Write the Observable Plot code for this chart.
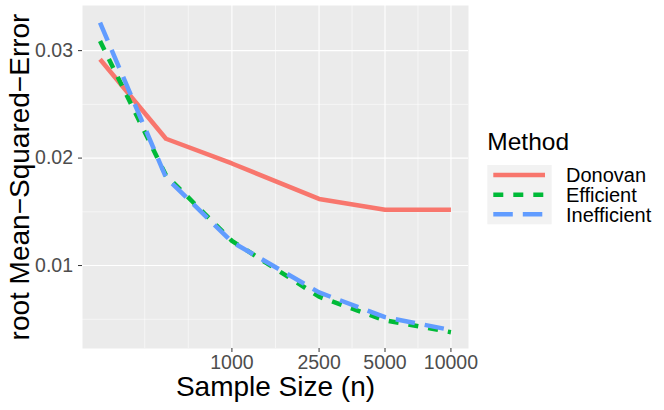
<!DOCTYPE html>
<html><head><meta charset="utf-8">
<script src="https://cdn.jsdelivr.net/npm/d3@7"></script>
<script src="https://cdn.jsdelivr.net/npm/@observablehq/plot@0.6"></script>
<style>
body{margin:0;background:#fff;}
#wrap{position:relative;width:664px;height:410px;overflow:hidden;font-family:"Liberation Sans",Arial,sans-serif;}
#chart{position:absolute;left:0;top:0;}
#legend{position:absolute;left:470px;top:0;}
</style></head><body><div id="wrap"><div id="chart"></div><svg id="legend" width="194" height="410"></svg></div>
<script>
const sampleSizes = [250, 500, 1000, 2500, 5000, 10000];
const donovan     = [0.0292, 0.0218, 0.0195, 0.0162, 0.0152, 0.0152];
const efficient   = [0.0309, 0.0184, 0.0123, 0.0071, 0.0049, 0.0038];
const inefficient = [0.0326, 0.0182, 0.0122, 0.0075, 0.0052, 0.0040];
const methods = ["Donovan", "Efficient", "Inefficient"];
const colors = ["#F8766D", "#00BA38", "#619CFF"];
const dashes = [null, "10 10", "19.5 10"];
const xTicks = [1000, 2500, 5000, 10000];
const xTickLabels = ["1000", "2500", "5000", "10000"];
const xMinor = [400, 632, 1581, 3536, 7071];
const yTicks = [0.01, 0.02, 0.03];
const yTickLabels = ["0.01", "0.02", "0.03"];
const yMinor = [0.005, 0.015, 0.025];
const xTitle = "Sample Size (n)";
const yTitle = "root Mean\u2212Squared\u2212Error";
const legendTitle = "Method";

const series = [donovan, efficient, inefficient];
const rows = methods.flatMap((m, i) => sampleSizes.map((n, j) => ({n, rmse: series[i][j], method: m})));
const xLab = xTicks.map((v, i) => ({v, t: xTickLabels[i]}));
const yLab = yTicks.map((v, i) => ({v, t: yTickLabels[i]}));
const font = '"Liberation Sans", Arial, sans-serif';

const lines = methods.map((m, i) => Plot.line(rows.filter(r => r.method === m), {
  x: "n", y: "rmse", stroke: colors[i], strokeWidth: 4.5,
  strokeDasharray: dashes[i] || undefined, strokeLinecap: "butt", strokeLinejoin: "round"
}));

const chart = Plot.plot({
  width: 470, height: 410,
  marginLeft: 82, marginRight: 2, marginTop: 5, marginBottom: 62,
  style: {fontFamily: font, background: "transparent", color: "#4D4D4D", overflow: "visible"},
  x: {type: "log", domain: [207.9, 12028]},
  y: {domain: [0.00228, 0.0342]},
  marks: [
    Plot.frame({fill: "#EBEBEB", stroke: "none"}),
    Plot.gridX(xMinor, {stroke: "white", strokeOpacity: 1, strokeWidth: 0.55}),
    Plot.gridY(yMinor, {stroke: "white", strokeOpacity: 1, strokeWidth: 0.55}),
    Plot.gridX(xTicks, {stroke: "white", strokeOpacity: 1, strokeWidth: 1.1}),
    Plot.gridY(yTicks, {stroke: "white", strokeOpacity: 1, strokeWidth: 1.1}),
    Plot.axisX(xTicks, {tickFormat: () => "", tickSize: 4, label: null, stroke: "#333333"}),
    Plot.axisY(yTicks, {tickFormat: () => "", tickSize: 4, label: null, stroke: "#333333"}),
    Plot.text(xLab, {x: "v", text: "t", frameAnchor: "bottom", dy: 7, lineAnchor: "top", textAnchor: "middle", fontSize: 19.5, fill: "#4D4D4D"}),
    Plot.text(yLab, {y: "v", text: "t", frameAnchor: "left", dx: -9.5, lineAnchor: "middle", textAnchor: "end", fontSize: 19.5, fill: "#4D4D4D"}),
    ...lines,
    Plot.text([xTitle], {frameAnchor: "bottom", dy: 47, lineAnchor: "bottom", textAnchor: "middle", fontSize: 28, fill: "black"}),
    Plot.text([yTitle], {frameAnchor: "left", dx: -54, rotate: -90, lineAnchor: "bottom", textAnchor: "middle", fontSize: 28, fill: "black"})
  ]
});
document.getElementById("chart").appendChild(chart);

// legend
const lg = d3.select("#legend").style("font-family", font);
lg.append("text").attr("x", 17.3).attr("y", 150).attr("font-size", 24.5).attr("fill", "black").text(legendTitle);
lg.append("rect").attr("x", 17.3).attr("y", 165).attr("width", 64.4).attr("height", 59.3).attr("fill", "#F2F2F2");
const keyY = [175, 194.7, 214.3];
methods.forEach((m, i) => {
  const l = lg.append("line").attr("x1", 23.3).attr("x2", 75).attr("y1", keyY[i]).attr("y2", keyY[i])
    .attr("stroke", colors[i]).attr("stroke-width", 4.5).attr("stroke-linecap", "butt");
  if (dashes[i]) l.attr("stroke-dasharray", dashes[i]);
  lg.append("text").attr("x", 96).attr("y", keyY[i] + 7.2).attr("font-size", 20).attr("fill", "black").text(m);
});
</script></body></html>
